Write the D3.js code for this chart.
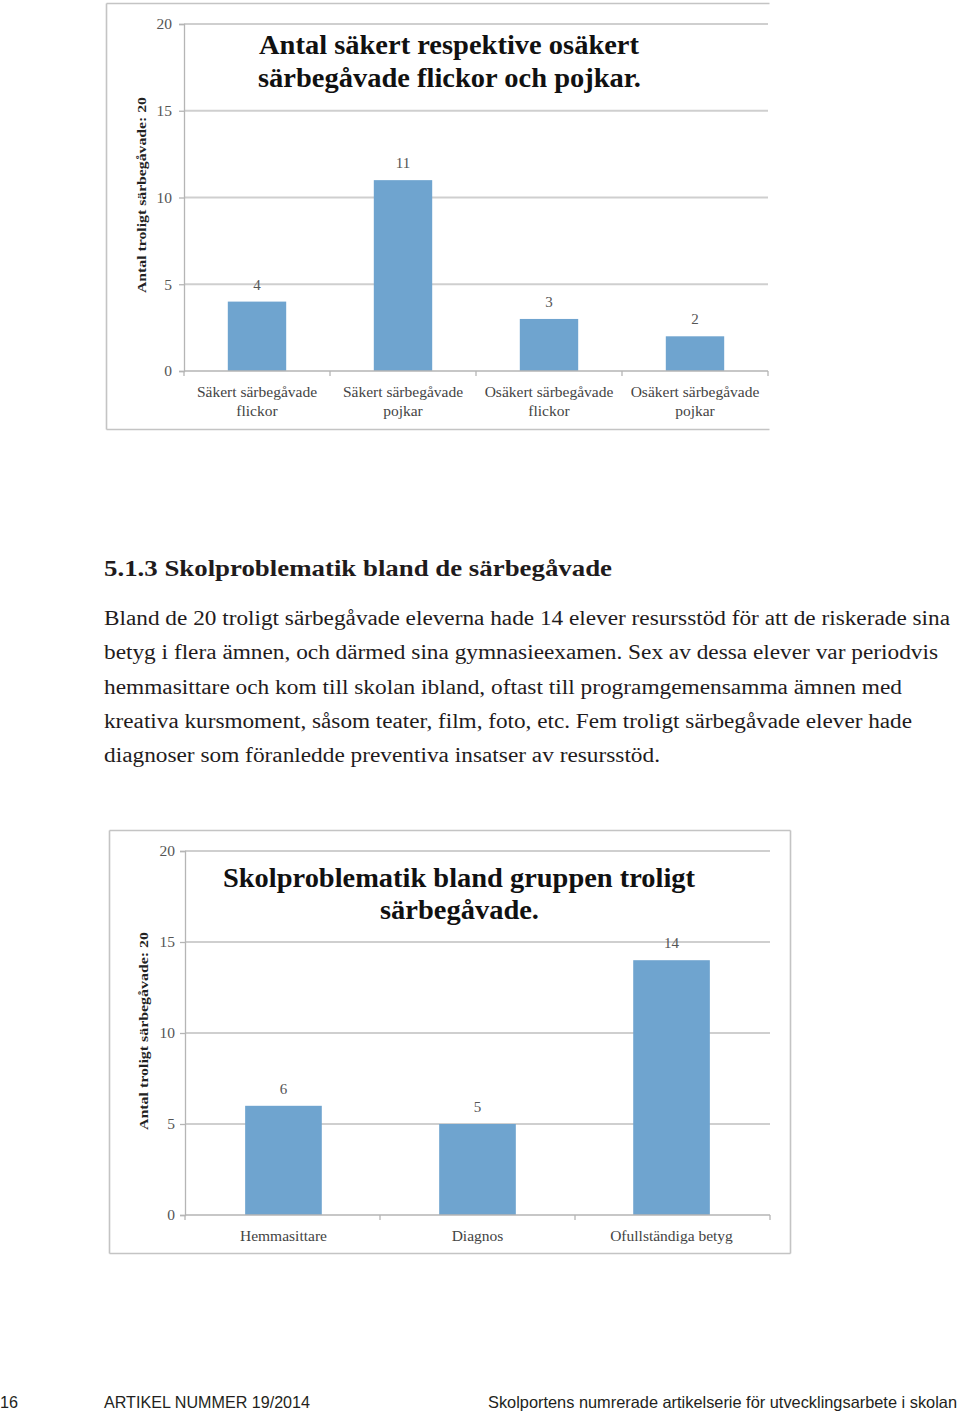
<!DOCTYPE html>
<html>
<head>
<meta charset="utf-8">
<script src="https://cdn.jsdelivr.net/npm/d3@7"></script>
<style>
  html, body { margin: 0; padding: 0; background: #fff; }
  svg { display: block; }
</style>
</head>
<body>
<svg id="page" width="960" height="1413"></svg>
<script>
// ---- data ----
const categories1 = [["Säkert särbegåvade", "flickor"], ["Säkert särbegåvade", "pojkar"], ["Osäkert särbegåvade", "flickor"], ["Osäkert särbegåvade", "pojkar"]];
const values1 = [4, 11, 3, 2];
const title1 = ["Antal säkert respektive osäkert", "särbegåvade flickor och pojkar."];

const categories2 = [["Hemmasittare"], ["Diagnos"], ["Ofullständiga betyg"]];
const values2 = [6, 5, 14];
const title2 = ["Skolproblematik bland gruppen troligt", "särbegåvade."];

const yTicks = [0, 5, 10, 15, 20];
const yAxisTitle = "Antal troligt särbegåvade: 20";

const heading = "5.1.3 Skolproblematik bland de särbegåvade";
const bodyLines = [
  "Bland de 20 troligt särbegåvade eleverna hade 14 elever resursstöd för att de riskerade sina",
  "betyg i flera ämnen, och därmed sina gymnasieexamen. Sex av dessa elever var periodvis",
  "hemmasittare och kom till skolan ibland, oftast till programgemensamma ämnen med",
  "kreativa kursmoment, såsom teater, film, foto, etc. Fem troligt särbegåvade elever hade",
  "diagnoser som föranledde preventiva insatser av resursstöd."
];
const footer = ["16", "ARTIKEL NUMMER 19/2014", "Skolportens numrerade artikelserie för utvecklingsarbete i skolan"];

// ---- drawing ----
const svg = d3.select("#page");
const SERIF = "'Liberation Serif', 'Times New Roman', serif";
const SANS = "'Liberation Sans', Arial, sans-serif";
const BAR = "#6fa4cf";
const GRID = "#cfcfcf";
const AXIS = "#b5b5b5";

function drawChart(cfg) {
  const g = svg.append("g");
  // frame
  const f = cfg.frame;
  const frame = g.append("g").attr("fill", "none").attr("stroke", "#c4c4c4").attr("stroke-width", 1.6);
  frame.append("line").attr("x1", f.x).attr("x2", f.x + f.w).attr("y1", f.y).attr("y2", f.y);
  frame.append("line").attr("x1", f.x).attr("x2", f.x).attr("y1", f.y).attr("y2", f.y + f.h);
  frame.append("line").attr("x1", f.x).attr("x2", f.x + f.w).attr("y1", f.y + f.h).attr("y2", f.y + f.h);
  if (cfg.rightBorder) frame.append("line").attr("x1", f.x + f.w).attr("x2", f.x + f.w).attr("y1", f.y).attr("y2", f.y + f.h);

  const y = d3.scaleLinear().domain([0, 20]).range([cfg.y0, cfg.y20]);
  const x = d3.scaleBand().domain(cfg.cats.map((c, i) => i)).range([cfg.xl, cfg.xr])
    .paddingInner(cfg.pi).paddingOuter(cfg.po);

  // gridlines
  g.append("g").selectAll("line").data(yTicks.filter(t => t > 0)).join("line")
    .attr("x1", cfg.xl).attr("x2", cfg.xr)
    .attr("y1", d => y(d)).attr("y2", d => y(d))
    .attr("stroke", GRID).attr("stroke-width", 2);

  // left axis
  const yAxis = d3.axisLeft(y).tickValues(yTicks).tickSize(5).tickPadding(8);
  const ya = g.append("g").attr("transform", `translate(${cfg.xl},0)`).call(yAxis);
  ya.select(".domain").attr("stroke", AXIS).attr("stroke-width", 1.3);
  ya.selectAll(".tick line").attr("stroke", AXIS).attr("stroke-width", 1.3);
  ya.selectAll(".tick text").attr("font-family", SERIF).attr("font-size", 15.5)
    .attr("fill", "#555").attr("x", cfg.tickLabelX - cfg.xl);

  // bars
  g.append("g").selectAll("rect").data(cfg.vals).join("rect")
    .attr("x", (d, i) => x(i)).attr("width", x.bandwidth())
    .attr("y", d => y(d)).attr("height", d => y(0) - y(d))
    .attr("fill", BAR);

  // bottom axis line + boundary ticks
  const bounds = d3.range(cfg.cats.length + 1).map(i => cfg.xl + i * (cfg.xr - cfg.xl) / cfg.cats.length);
  g.append("line").attr("x1", cfg.xl).attr("x2", cfg.xr).attr("y1", y(0)).attr("y2", y(0))
    .attr("stroke", AXIS).attr("stroke-width", 1.6);
  g.append("g").selectAll("line").data(bounds).join("line")
    .attr("x1", d => d).attr("x2", d => d).attr("y1", y(0)).attr("y2", y(0) + 5)
    .attr("stroke", AXIS).attr("stroke-width", 1.3);

  // value labels
  g.append("g").selectAll("text").data(cfg.vals).join("text")
    .attr("x", (d, i) => x(i) + x.bandwidth() / 2).attr("y", d => y(d) - 12)
    .attr("text-anchor", "middle").attr("font-family", SERIF).attr("font-size", 15)
    .attr("fill", "#555").text(d => d);

  // category labels
  const cl = g.append("g").selectAll("text").data(cfg.cats).join("text")
    .attr("text-anchor", "middle").attr("font-family", SERIF).attr("font-size", 15.5)
    .attr("fill", "#444");
  cl.each(function(lines, i) {
    const t = d3.select(this);
    lines.forEach((ln, k) => {
      t.append("tspan").attr("x", x(i) + x.bandwidth() / 2).attr("y", cfg.catY + k * 19).text(ln);
    });
  });

  // chart title
  cfg.title.forEach((ln, k) => {
    g.append("text").attr("x", cfg.titleX[k]).attr("y", cfg.titleY[k])
      .attr("font-family", SERIF).attr("font-weight", "bold").attr("font-size", 27)
      .attr("fill", "#111").attr("textLength", cfg.titleW[k]).attr("lengthAdjust", "spacingAndGlyphs")
      .text(ln);
  });

  // y axis title
  g.append("text")
    .attr("transform", `translate(${cfg.yTitleX},${cfg.yTitleY}) rotate(-90)`)
    .attr("text-anchor", "middle").attr("font-family", SERIF).attr("font-weight", "bold")
    .attr("font-size", 13.5).attr("fill", "#222")
    .attr("textLength", cfg.yTitleW).attr("lengthAdjust", "spacingAndGlyphs")
    .text(yAxisTitle);
}

drawChart({
  frame: { x: 106.5, y: 3.5, w: 663, h: 426 },
  rightBorder: false,
  y0: 371, y20: 24, xl: 184, xr: 768, pi: 0.6, po: 0.3,
  cats: categories1, vals: values1, catY: 397, tickLabelX: 172,
  title: title1, titleX: [259, 258], titleY: [54, 87], titleW: [380, 383],
  yTitleX: 146, yTitleY: 195, yTitleW: 196
});

drawChart({
  frame: { x: 109.5, y: 830.5, w: 681, h: 423 },
  rightBorder: true,
  y0: 1215, y20: 851, xl: 185, xr: 770, pi: 0.605, po: 0.31,
  cats: categories2, vals: values2, catY: 1241, tickLabelX: 175,
  title: title2, titleX: [223, 380], titleY: [887, 919], titleW: [472, 159],
  yTitleX: 148, yTitleY: 1031, yTitleW: 198
});

// ---- page text ----
svg.append("text").attr("x", 104).attr("y", 576)
  .attr("font-family", SERIF).attr("font-weight", "bold").attr("font-size", 24)
  .attr("fill", "#1f1b1c").attr("textLength", 508).attr("lengthAdjust", "spacingAndGlyphs")
  .text(heading);

const bodyW = [846, 834, 798, 808, 556];
svg.append("g").selectAll("text").data(bodyLines).join("text")
  .attr("x", 104).attr("y", (d, i) => 625 + i * 34.3)
  .attr("font-family", SERIF).attr("font-size", 20.5).attr("fill", "#1f1b1c")
  .attr("textLength", (d, i) => bodyW[i]).attr("lengthAdjust", "spacingAndGlyphs")
  .text(d => d);

const footX = [0, 104, 488];
const footW = [18, 206, 469];
svg.append("g").selectAll("text").data(footer).join("text")
  .attr("x", (d, i) => footX[i]).attr("y", 1408)
  .attr("font-family", SANS).attr("font-size", 16.5).attr("fill", "#231f20")
  .attr("textLength", (d, i) => footW[i]).attr("lengthAdjust", "spacingAndGlyphs")
  .text(d => d);
</script>
</body>
</html>
